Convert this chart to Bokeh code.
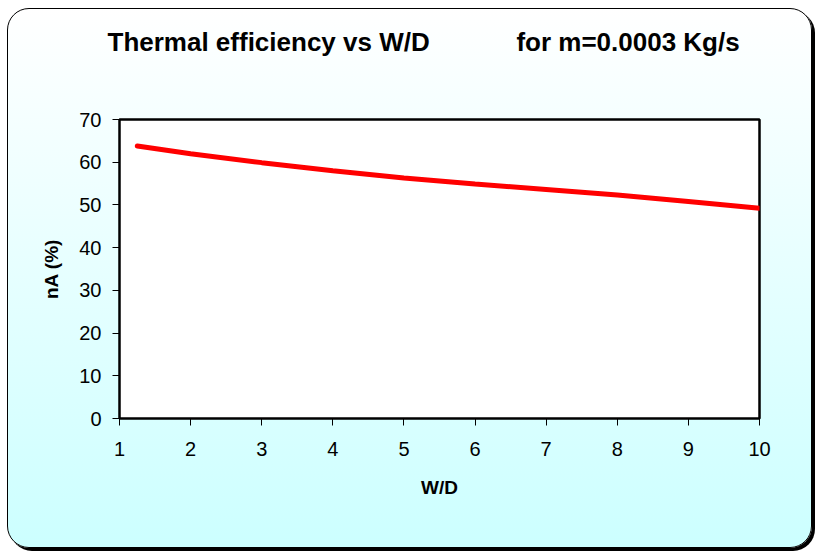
from bokeh.plotting import figure
from bokeh.models import Range1d, FixedTicker, Title
from bokeh.embed import file_html
from bokeh.resources import INLINE

# Width-to-diameter ratio and thermal efficiency (%)
wd = [1.25, 2, 3, 4, 5, 6, 7, 8, 9, 10]
efficiency = [63.8, 62.0, 59.9, 58.0, 56.3, 54.9, 53.6, 52.3, 50.8, 49.2]

x_ticks = [1, 2, 3, 4, 5, 6, 7, 8, 9, 10]
y_ticks = [0, 10, 20, 30, 40, 50, 60, 70]

FONT = "Liberation Sans"
NB = "\u00a0"

p = figure(
    width=805, height=540,
    output_backend="svg", toolbar_location=None,
    x_range=Range1d(1, 10), y_range=Range1d(0, 70),
    min_border_left=111, min_border_right=54,
    min_border_top=110, min_border_bottom=131,
)
p.styles = {
    "margin-left": "7px",
    "margin-top": "8px",
    "background": "linear-gradient(to bottom, #ffffff 0%, #f0ffff 30%, #ccffff 100%)",
    "border": "1.5px solid #000000",
    "border-radius": "22px",
    "box-shadow": "3px 3px 0 #000000",
}
p.border_fill_color = None
p.background_fill_color = "#ffffff"
p.outline_line_color = "#000000"
p.outline_line_width = 2.5
p.grid.visible = False

# Main heading (outermost in the top panel)
p.title.text = "Thermal efficiency vs W/D" + NB * 12 + "for m=0.0003 Kg/s"
p.title.align = "left"
p.title.offset = -12
p.title.standoff = 0
p.title.text_font = FONT
p.title.text_font_size = "26px"
p.title.text_font_style = "bold"
p.title.text_color = "#000000"

# Blank spacer between the heading and the plot frame
spacer = Title(text=NB, text_font=FONT, text_font_size="10px", standoff=50)
p.add_layout(spacer, "above")

p.xaxis.ticker = FixedTicker(ticks=x_ticks)
p.yaxis.ticker = FixedTicker(ticks=y_ticks)
p.xaxis.axis_label = "W/D"
p.yaxis.axis_label = "nA (%)"
for ax in (p.xaxis, p.yaxis):
    ax.axis_label_text_font = FONT
    ax.axis_label_text_font_size = "19px"
    ax.axis_label_text_font_style = "bold"
    ax.axis_label_text_color = "#000000"
    ax.major_label_text_font = FONT
    ax.major_label_text_font_size = "20px"
    ax.major_label_text_color = "#000000"
    ax.major_tick_in = 0
    ax.major_tick_out = 7
    ax.minor_tick_out = 0
    ax.minor_tick_in = 0
    ax.axis_line_color = "#000000"
    ax.major_tick_line_color = "#000000"
p.xaxis.major_label_standoff = 16
p.xaxis.axis_label_standoff = 18
p.yaxis.major_label_standoff = 11
p.yaxis.axis_label_standoff = 14

p.line(wd, efficiency, line_color="#ff0000", line_width=5, line_cap="round")

open("out.html", "w").write(file_html(p, INLINE))
